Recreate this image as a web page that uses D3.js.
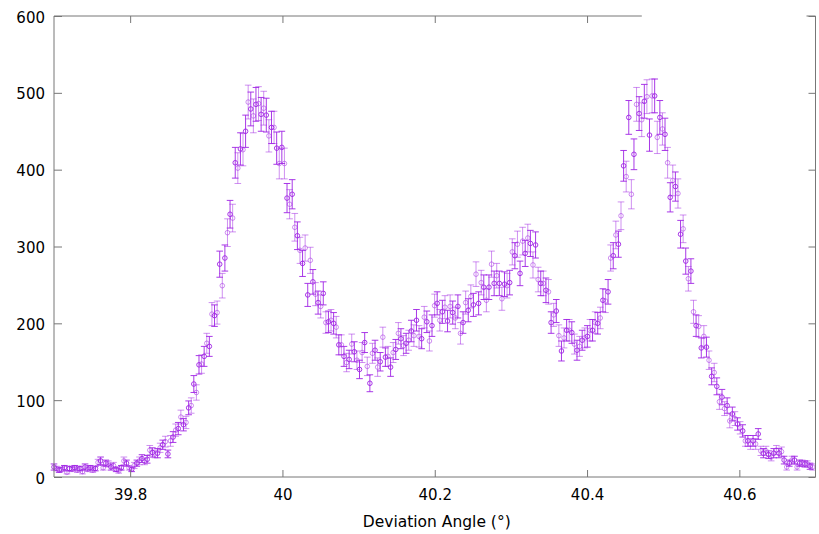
<!DOCTYPE html>
<html>
<head>
<meta charset="utf-8">
<script src="https://cdn.jsdelivr.net/npm/d3@7"></script>
<style>
  body { margin: 0; background: #fff; }
  svg { display: block; }
  svg text { font-family: "DejaVu Sans", Verdana, sans-serif; fill: #000; }
  .tick text { font-size: 15px; }
</style>
</head>
<body>
<svg id="chart" width="819" height="534"></svg>
<script>
// scan grid: first angle and step (deg)
const ANGLE_START = 39.7,
      ANGLE_STEP = 0.0034;

// counts, one per angle step
const counts = [
    13, 11, 9, 10, 12, 6, 11, 10, 12, 9, 11, 7, 13, 10, 12, 9, 11, 19, 21, 12,
    18, 17, 13, 15, 10, 8, 12, 21, 18, 12, 10, 15, 18, 21, 24, 20, 23, 35, 32, 30,
    31, 38, 42, 46, 30, 47, 52, 61, 63, 78, 68, 71, 90, 93, 121,
    110, 146, 147, 157, 174, 170, 212, 210, 214, 277, 249, 285, 318, 342, 337, 409, 402, 427, 426, 450,
    488, 479, 470, 485, 486, 472, 480, 471, 444, 455, 455, 428, 408, 429, 408, 363, 355, 368, 325, 314,
    295, 278, 298, 237, 282, 254, 238, 227, 222, 239, 201, 202, 204, 200,
    195, 172, 172, 157, 149, 153, 173, 163, 152, 140, 162, 175, 144, 122, 161, 165, 143, 150, 182, 156,
    157, 143, 162, 166, 187, 180, 171, 174, 178, 190, 184, 204, 183, 180, 208, 202, 177, 197, 223, 226,
    204, 215, 221, 203, 222, 214, 207, 222, 187, 201, 227, 217, 235, 224, 264, 226, 253, 247, 230,
    247, 277, 252, 262, 252, 232, 251, 249, 253, 293, 288, 303, 265, 307, 291, 311, 304, 276, 302, 257,
    252, 252, 243, 241, 201, 211, 216, 184, 164, 181, 191, 191, 188, 173, 165, 170, 178, 181, 183, 191,
    191, 201, 200, 207, 230, 229, 241, 285, 288, 315, 303, 340, 405, 391, 468,
    368, 420, 485, 473, 465, 489, 495, 445, 496, 496, 442, 468, 453, 446, 409, 364, 386, 378, 369, 316,
    323, 281, 258, 268, 215, 197, 196, 168, 183, 169, 152, 131, 136, 118, 98, 104, 89, 93, 73, 82,
    76, 69, 64, 60, 47, 47, 43, 47, 43, 56, 34, 31, 34, 29, 26, 31, 35, 31, 33, 22,
    13, 18, 22, 22, 13, 18, 18, 17, 17, 14, 13
];

// half length of each error bar
const errors = [
    4, 3, 3, 3, 3, 2, 3, 3, 3, 3, 3, 3, 4, 3, 3, 3, 3, 4, 5, 3,
    4, 4, 4, 4, 3, 3, 3, 5, 4, 3, 3, 4, 4, 5, 5, 4, 5, 6, 6, 5,
    6, 6, 6, 7, 5, 7, 7, 8, 8, 9, 8, 8, 9, 10, 11,
    10, 12, 12, 13, 13, 13, 15, 14, 15, 17, 16, 17, 18, 18, 18, 20, 20, 21, 21, 21,
    22, 22, 22, 22, 22, 22, 22, 22, 21, 21, 21, 21, 20, 21, 20, 19, 19, 19, 18, 18,
    17, 17, 17, 15, 17, 16, 15, 15, 15, 15, 14, 14, 14, 14,
    14, 13, 13, 13, 12, 12, 13, 13, 12, 12, 13, 13, 12, 11, 13, 13, 12, 12, 13, 12,
    13, 12, 13, 13, 14, 13, 13, 13, 13, 14, 14, 14, 14, 13, 14, 14, 13, 14, 15, 15,
    14, 15, 15, 14, 15, 15, 14, 15, 14, 14, 15, 15, 15, 15, 16, 15, 16, 16, 15,
    16, 17, 16, 16, 16, 15, 16, 16, 16, 17, 17, 17, 16, 18, 17, 18, 17, 17, 17, 16,
    16, 16, 16, 16, 14, 15, 15, 14, 13, 13, 14, 14, 14, 13, 13, 13, 13, 13, 14, 14,
    14, 14, 14, 14, 15, 15, 16, 17, 17, 18, 17, 18, 20, 20, 22,
    19, 20, 22, 22, 22, 22, 22, 21, 22, 22, 21, 22, 21, 21, 20, 19, 20, 19, 19, 18,
    18, 17, 16, 16, 15, 14, 14, 13, 14, 13, 12, 11, 12, 11, 10, 10, 9, 10, 9, 9,
    9, 8, 8, 8, 7, 7, 7, 7, 7, 7, 6, 6, 6, 5, 5, 6, 6, 6, 6, 5,
    4, 4, 5, 5, 4, 4, 4, 4, 4, 4, 4
];

const xTicks = [39.8, 40, 40.2, 40.4, 40.6];
const yTicks = [0, 100, 200, 300, 400, 500, 600];
const xLabel = 'Deviation Angle (°)';

var svg = d3.select('#chart');
var margin = { left: 54, right: 3.5, top: 16, bottom: 57 };
var W = 819 - margin.left - margin.right,
    H = 534 - margin.top - margin.bottom;

var x = d3.scaleLinear().domain([39.7, 40.7]).range([0, W]);
var y = d3.scaleLinear().domain([0, 600]).range([H, 0]);

var g = svg.append('g').attr('transform', 'translate(' + margin.left + ',' + margin.top + ')');

// points: two interleaved runs, dark and light
var points = counts.map((c, i) => ({
    a: ANGLE_START + i * ANGLE_STEP,
    c: c,
    e: errors[i],
    run: i % 2
}));

var color = '#a024e4';
var cap = 3.3, r = 2.3;

var plot = g.append('g');

[1, 0].forEach(function (run) {
    var grp = plot.append('g')
        .attr('stroke', color)
        .attr('stroke-opacity', run === 0 ? 0.9 : 0.5)
        .attr('fill', 'none')
        .attr('stroke-width', 1);

    var pt = grp.selectAll('g.pt')
        .data(points.filter(p => p.run === run))
        .join('g')
        .attr('class', 'pt');

    pt.append('line')
        .attr('x1', d => x(d.a)).attr('x2', d => x(d.a))
        .attr('y1', d => y(d.c - d.e)).attr('y2', d => y(d.c + d.e));
    pt.append('line')
        .attr('x1', d => x(d.a) - cap).attr('x2', d => x(d.a) + cap)
        .attr('y1', d => y(d.c + d.e)).attr('y2', d => y(d.c + d.e));
    pt.append('line')
        .attr('x1', d => x(d.a) - cap).attr('x2', d => x(d.a) + cap)
        .attr('y1', d => y(d.c - d.e)).attr('y2', d => y(d.c - d.e));
    pt.append('circle')
        .attr('cx', d => x(d.a)).attr('cy', d => y(d.c))
        .attr('r', r);
});

// axes, ticks pointing inwards
var fmt = d3.format('~g');
var xAxis = g.append('g')
    .attr('transform', 'translate(0,' + H + ')')
    .call(d3.axisBottom(x).tickValues(xTicks).tickFormat(fmt).tickSize(-7).tickPadding(12));
var yAxis = g.append('g')
    .call(d3.axisLeft(y).tickValues(yTicks).tickSize(-8).tickPadding(9));
yAxis.selectAll('.tick text').attr('dy', '0.4em');

var topAxis = g.append('g')
    .call(d3.axisTop(x).tickValues(xTicks.filter(t => t < 40.5)).tickSize(-7).tickFormat(''));
var rightAxis = g.append('g')
    .attr('transform', 'translate(' + W + ',0)')
    .call(d3.axisRight(y).tickValues(yTicks).tickSize(-7).tickFormat(''));

[xAxis, yAxis, topAxis, rightAxis].forEach(a => {
    a.attr('font-family', null).attr('font-size', null);
    a.select('.domain').remove();
    a.selectAll('.tick line').attr('stroke', '#777');
});

// border; the top edge is broken where the (empty) key sits
var border = g.append('g').attr('stroke', '#777').attr('stroke-width', 1).attr('fill', 'none');
border.append('path')
    .attr('d', 'M' + x(40.4719) + ',0H0V' + H + 'H' + W + 'V0H' + x(40.6882));

svg.append('text')
    .attr('x', margin.left + W / 2 + 2)
    .attr('y', 527)
    .attr('text-anchor', 'middle')
    .style('font-size', '15.5px')
    .text(xLabel);
</script>
</body>
</html>
